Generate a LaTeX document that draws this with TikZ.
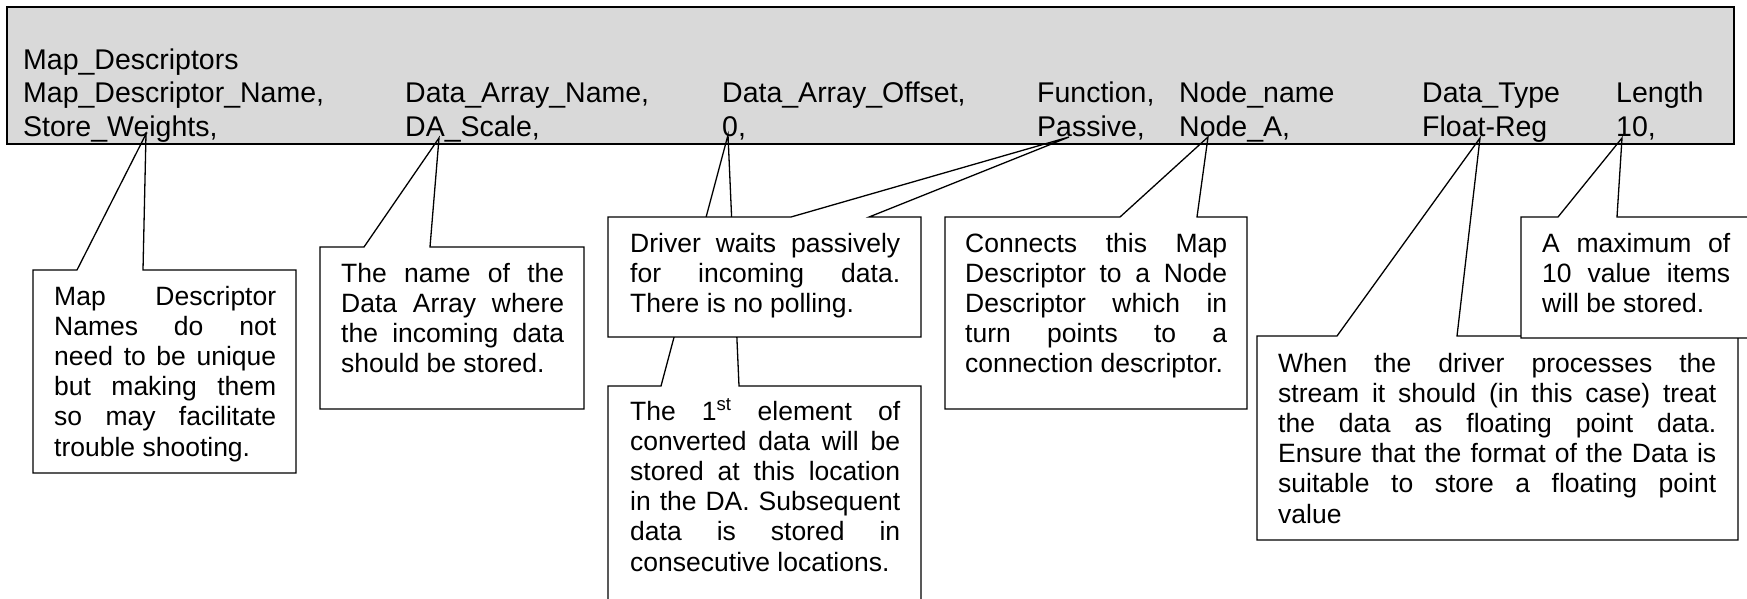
\documentclass[tikz,border=0pt]{standalone}
\usepackage{fontspec}
\setmainfont{Liberation Sans}
\usepackage{tikz}

\definecolor{barfill}{RGB}{217,217,217}
\newcommand{\fillline}[1]{\makebox[\linewidth][s]{#1}\\}

\begin{document}
\begin{tikzpicture}[x=1pt,y=-1pt]
  % Configurable parameters
  \def\rowA{70}             % Baseline of title row in the bar
  \def\rowB{103}            % Baseline of field name row
  \def\rowC{136}            % Baseline of value row
  \newcommand{\tabfont}{\fontsize{28.5}{33}\selectfont}
  \newcommand{\notefont}{\fontsize{26.5}{30.2}\selectfont}
  % Callout: left, top, right, bottom, first knee, second knee, tip
  \newcommand{\callout}[7]{%
    \fill[white] (#1,#2) rectangle (#3,#4);
    \draw[line width=1.3pt,line join=miter]
      (#1,#2) -- (#5,#2) -- (#7) -- (#6,#2) -- (#3,#2) -- (#3,#4) -- (#1,#4) -- cycle;}
  \tikzset{cell/.style={anchor=base west,inner sep=0pt,font=\tabfont},
    note/.style={anchor=base west,inner sep=0pt,font=\notefont}}
  %
  \clip (0,0) rectangle (1747,599);
  \fill[white] (0,0) rectangle (1747,599);
  %
  % Map descriptor bar
  \filldraw[fill=barfill,draw=black,line width=2.6pt] (7,7) rectangle (1734,144);
  \node[cell] (title) at (23,\rowA) {Map\_Descriptors};
  \node[cell] (hName) at (23,\rowB) {Map\_Descriptor\_Name,};
  \node[cell] (hArray) at (405,\rowB) {Data\_Array\_Name,};
  \node[cell] (hOffset) at (722,\rowB) {Data\_Array\_Offset,};
  \node[cell] (hFunc) at (1037,\rowB) {Function,};
  \node[cell] (hNode) at (1179,\rowB) {Node\_name};
  \node[cell] (hType) at (1422,\rowB) {Data\_Type};
  \node[cell] (hLen) at (1616,\rowB) {Length};
  \node[cell] (vName) at (23,\rowC) {Store\_Weights,};
  \node[cell] (vArray) at (405,\rowC) {DA\_Scale,};
  \node[cell] (vOffset) at (722,\rowC) {0,};
  \node[cell] (vFunc) at (1037,\rowC) {Passive,};
  \node[cell] (vNode) at (1179,\rowC) {Node\_A,};
  \node[cell] (vType) at (1422,\rowC) {Float-Reg};
  \node[cell] (vLen) at (1616,\rowC) {10,};
  %
  % Callout tips
  \coordinate (tipName) at (146,134);
  \coordinate (tipArray) at (439,138);
  \coordinate (tipOffset) at (728,135);
  \coordinate (tipFunc) at (1069,137);
  \coordinate (tipNode) at (1208,137);
  \coordinate (tipType) at (1480,138);
  \coordinate (tipLen) at (1622,138);
  %
  % Callout boxes (later ones cover earlier ones)
  \callout{33}{270}{296}{473}{77}{143}{tipName}
  \callout{320}{247}{584}{409}{364}{430}{tipArray}
  \callout{608}{386}{921}{620}{661}{739}{tipOffset}
  \callout{608}{217}{921}{337}{791}{869}{tipFunc}
  \callout{945}{217}{1247}{409}{1120}{1197}{tipNode}
  \callout{1257}{336}{1738}{540}{1337}{1457}{tipType}
  \callout{1521}{217}{1760}{338}{1558}{1617}{tipLen}
  %
  % Callout texts
  \node[note] (nName) at (54,305) {\parbox[t]{222pt}{%
    \fillline{Map Descriptor}\fillline{Names do not}\fillline{need to be unique}%
    \fillline{but making them}\fillline{so may facilitate}trouble shooting.}};
  \node[note] (nArray) at (341,282) {\parbox[t]{223pt}{%
    \fillline{The name of the}\fillline{Data Array where}\fillline{the incoming data}%
    should be stored.}};
  \node[note] (nFunc) at (630,252) {\parbox[t]{270pt}{%
    \fillline{Driver waits passively}\fillline{for incoming data.}There is no polling.}};
  \node[note] (nOffset) at (630,420) {\parbox[t]{270pt}{%
    \fillline{The 1\textsuperscript{st} element of}\fillline{converted data will be}%
    \fillline{stored at this location}\fillline{in the DA. Subsequent}%
    \fillline{data is stored in}consecutive locations.}};
  \node[note] (nNode) at (965,252) {\parbox[t]{262pt}{%
    \fillline{Connects this Map}\fillline{Descriptor to a Node}\fillline{Descriptor which in}%
    \fillline{turn points to a}connection descriptor.}};
  \node[note] (nType) at (1278,372) {\parbox[t]{438pt}{%
    \fillline{When the driver processes the}\fillline{stream it should (in this case) treat}%
    \fillline{the data as floating point data.}\fillline{Ensure that the format of the Data is}%
    \fillline{suitable to store a floating point}value}};
  \node[note] (nLen) at (1542,252) {\parbox[t]{188pt}{%
    \fillline{A maximum of}\fillline{10 value items}will be stored.}};
  %
\end{tikzpicture}
\end{document}
